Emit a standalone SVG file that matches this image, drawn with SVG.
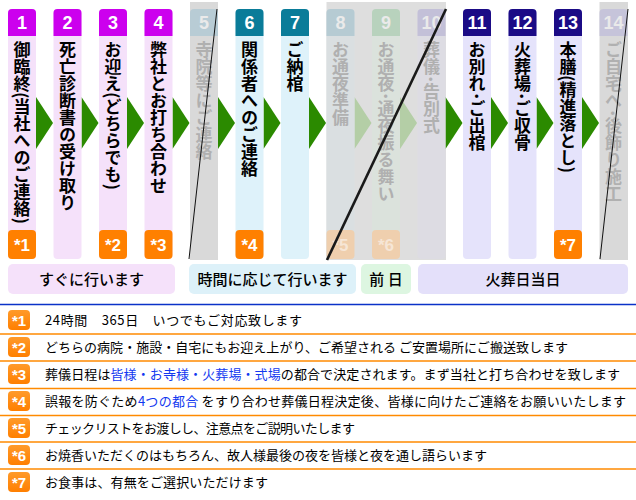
<svg xmlns="http://www.w3.org/2000/svg" width="636" height="500" viewBox="0 0 636 500">
<defs>
<style>
.vt{font-family:"Noto Sans CJK JP","Noto Sans CJK SC",sans-serif;font-size:17px;font-weight:bold;writing-mode:vertical-rl;fill:#000}
.vf{fill:#b0b0b0}
.num{font-family:"Liberation Sans",Arial,sans-serif;font-size:18px;font-weight:bold;fill:#fff;text-anchor:middle}
.numf{fill:#eaeaea}
.bd{font-family:"Liberation Sans",Arial,sans-serif;font-size:17px;font-weight:bold;fill:#fff;text-anchor:middle}
.bdf{fill:#f6e6d6}
.ph{font-family:"Noto Sans CJK JP",sans-serif;font-size:15px;font-weight:500;fill:#000;text-anchor:middle}
.lg{font-family:"Noto Sans CJK JP",sans-serif;font-size:13px;fill:#000}
.bl{fill:#1238f0}
.lb{font-family:"Liberation Sans",Arial,sans-serif;font-size:15px;font-weight:bold;fill:#fff;text-anchor:middle}
.arr{fill:#2b8a00}
.arrf{fill:#b4cea6}
.sep{stroke:#ff8a00;stroke-width:1.5}
</style>
<linearGradient id="og" x1="0" y1="0" x2="0" y2="1"><stop offset="0" stop-color="#ff9a2a"/><stop offset="1" stop-color="#ff7f00"/></linearGradient>
</defs>

<!-- faded zones backgrounds -->
<g id="faded-zones">
<rect x="190" y="2" width="28" height="258" fill="#d9d9d9"/>
<rect x="326.5" y="2" width="119.5" height="258" fill="#dedede"/>
<rect x="599.5" y="2" width="28.5" height="258" fill="#d9d9d9"/>
</g>

<g id="connectors">
<polygon class="arr" points="36,97 53,123 36,149"/>
<polygon class="arr" points="81.5,97 98.5,123 81.5,149"/>
<polygon class="arr" points="127,97 144,123 127,149"/>
<polygon class="arr" points="172.5,97 189.5,123 172.5,149"/>
<polygon class="arr" points="218,97 235,123 218,149"/>
<polygon class="arr" points="263.5,97 280.5,123 263.5,149"/>
<polygon class="arr" points="309,97 326,123 309,149"/>
<polygon class="arrf" points="354.5,97 371.5,123 354.5,149"/>
<polygon class="arrf" points="400,97 417,123 400,149"/>
<polygon class="arr" points="445.5,97 462.5,123 445.5,149"/>
<polygon class="arr" points="491,97 508,123 491,149"/>
<polygon class="arr" points="536.5,97 553.5,123 536.5,149"/>
<polygon class="arr" points="582,97 599,123 582,149"/>
</g>

<g id="step1">
<rect x="8" y="9" width="28" height="250" rx="4" fill="#f5e1fa"/>
<path d="M8,36 V13 a4,4 0 0 1 4,-4 H32 a4,4 0 0 1 4,4 V36 Z" fill="#cc00ee"/>
<text class="num" x="22" y="29">1</text>
<text class="vt" x="22" y="41">御臨終(当社へのご連絡)</text>
<rect x="8" y="230" width="28" height="29" rx="4" fill="#ff8000"/>
<text class="bd" x="22" y="251">*1</text>
</g>
<g id="step2">
<rect x="53.5" y="9" width="28" height="250" rx="4" fill="#f5e1fa"/>
<path d="M53.5,36 V13 a4,4 0 0 1 4,-4 H77.5 a4,4 0 0 1 4,4 V36 Z" fill="#cc00ee"/>
<text class="num" x="67.5" y="29">2</text>
<text class="vt" x="67.5" y="41">死亡診断書の受け取り</text>
</g>
<g id="step3">
<rect x="99" y="9" width="28" height="250" rx="4" fill="#f5e1fa"/>
<path d="M99,36 V13 a4,4 0 0 1 4,-4 H123 a4,4 0 0 1 4,4 V36 Z" fill="#cc00ee"/>
<text class="num" x="113" y="29">3</text>
<text class="vt" x="113" y="41">お迎え(どちらでも)</text>
<rect x="99" y="230" width="28" height="29" rx="4" fill="#ff8000"/>
<text class="bd" x="113" y="251">*2</text>
</g>
<g id="step4">
<rect x="144.5" y="9" width="28" height="250" rx="4" fill="#f5e1fa"/>
<path d="M144.5,36 V13 a4,4 0 0 1 4,-4 H168.5 a4,4 0 0 1 4,4 V36 Z" fill="#cc00ee"/>
<text class="num" x="158.5" y="29">4</text>
<text class="vt" x="158.5" y="41">弊社とお打ち合わせ</text>
<rect x="144.5" y="230" width="28" height="29" rx="4" fill="#ff8000"/>
<text class="bd" x="158.5" y="251">*3</text>
</g>
<g id="step5">
<path d="M190,36 V13 a4,4 0 0 1 4,-4 H214 a4,4 0 0 1 4,4 V36 Z" fill="#b8ccd5"/>
<text class="num numf" x="204" y="29">5</text>
<text class="vt vf" x="204" y="41">寺院等にご連絡</text>
<line x1="217" y1="9" x2="189" y2="259" stroke="#111" stroke-width="1"/>
</g>
<g id="step6">
<rect x="235.5" y="9" width="28" height="250" rx="4" fill="#def2fa"/>
<path d="M235.5,36 V13 a4,4 0 0 1 4,-4 H259.5 a4,4 0 0 1 4,4 V36 Z" fill="#0a7c99"/>
<text class="num" x="249.5" y="29">6</text>
<text class="vt" x="249.5" y="41">関係者へのご連絡</text>
<rect x="235.5" y="230" width="28" height="29" rx="4" fill="#ff8000"/>
<text class="bd" x="249.5" y="251">*4</text>
</g>
<g id="step7">
<rect x="281" y="9" width="28" height="250" rx="4" fill="#def2fa"/>
<path d="M281,36 V13 a4,4 0 0 1 4,-4 H305 a4,4 0 0 1 4,4 V36 Z" fill="#0a7c99"/>
<text class="num" x="295" y="29">7</text>
<text class="vt" x="295" y="41">ご納棺</text>
</g>
<g id="step8">
<rect x="326.5" y="9" width="28" height="250" rx="4" fill="#dadfe1"/>
<path d="M326.5,36 V13 a4,4 0 0 1 4,-4 H350.5 a4,4 0 0 1 4,4 V36 Z" fill="#b6cbd3"/>
<text class="num numf" x="340.5" y="29">8</text>
<text class="vt vf" x="340.5" y="41">お通夜準備</text>
<rect x="326.5" y="230" width="28" height="29" rx="4" fill="#efcfae"/>
<text class="bd bdf" x="340.5" y="251">*5</text>
</g>
<g id="step9">
<rect x="372" y="9" width="28" height="250" rx="4" fill="#dbe2dc"/>
<path d="M372,36 V13 a4,4 0 0 1 4,-4 H396 a4,4 0 0 1 4,4 V36 Z" fill="#b8d2bd"/>
<text class="num numf" x="386" y="29">9</text>
<text class="vt vf" x="386" y="41">お通夜･通夜振る舞い</text>
<rect x="372" y="230" width="28" height="29" rx="4" fill="#efcfae"/>
<text class="bd bdf" x="386" y="251">*6</text>
</g>
<g id="step10">
<rect x="417.5" y="9" width="28" height="250" rx="4" fill="#dddce3"/>
<path d="M417.5,36 V13 a4,4 0 0 1 4,-4 H441.5 a4,4 0 0 1 4,4 V36 Z" fill="#c3c0d8"/>
<text class="num numf" x="431.5" y="29">10</text>
<text class="vt vf" x="431.5" y="41">葬儀･告別式</text>
</g>
<line id="skip-line" x1="446" y1="9" x2="327" y2="260" stroke="#1a1a1a" stroke-width="2.6"/>
<g id="step11">
<rect x="463" y="9" width="28" height="250" rx="4" fill="#e5e3fb"/>
<path d="M463,36 V13 a4,4 0 0 1 4,-4 H487 a4,4 0 0 1 4,4 V36 Z" fill="#1b0b86"/>
<text class="num" x="477" y="29">11</text>
<text class="vt" x="477" y="41">お別れ･ご出棺</text>
</g>
<g id="step12">
<rect x="508.5" y="9" width="28" height="250" rx="4" fill="#e5e3fb"/>
<path d="M508.5,36 V13 a4,4 0 0 1 4,-4 H532.5 a4,4 0 0 1 4,4 V36 Z" fill="#1b0b86"/>
<text class="num" x="522.5" y="29">12</text>
<text class="vt" x="522.5" y="41">火葬場･ご収骨</text>
</g>
<g id="step13">
<rect x="554" y="9" width="28" height="250" rx="4" fill="#e5e3fb"/>
<path d="M554,36 V13 a4,4 0 0 1 4,-4 H578 a4,4 0 0 1 4,4 V36 Z" fill="#1b0b86"/>
<text class="num" x="568" y="29">13</text>
<text class="vt" x="568" y="41">本膳(精進落とし)</text>
<rect x="554" y="230" width="28" height="29" rx="4" fill="#ff8000"/>
<text class="bd" x="568" y="251">*7</text>
</g>
<g id="step14">
<path d="M599.5,36 V13 a4,4 0 0 1 4,-4 H623.5 a4,4 0 0 1 4,4 V36 Z" fill="#c6c4da"/>
<text class="num numf" x="613.5" y="29">14</text>
<text class="vt vf" x="613.5" y="41">ご自宅へ･後飾り施工</text>
<line x1="628" y1="9" x2="600" y2="259" stroke="#111" stroke-width="1"/>
</g>

<g id="phase-immediate">
<rect x="8" y="264" width="167" height="30" rx="5" fill="#f5e1fa"/>
<text class="ph" x="91.5" y="284.5">すぐに行います</text>
</g>
<g id="phase-timed">
<rect x="189" y="264" width="167" height="30" rx="5" fill="#ddf1f9"/>
<text class="ph" x="272.5" y="284.5">時間に応じて行います</text>
</g>
<g id="phase-eve">
<rect x="361" y="264" width="50" height="30" rx="5" fill="#ddf6e1"/>
<text class="ph" x="386" y="284.5">前 日</text>
</g>
<g id="phase-day">
<rect x="418" y="264" width="210" height="30" rx="5" fill="#e4e0fa"/>
<text class="ph" x="523" y="284.5">火葬日当日</text>
</g>

<g id="legend-lines">
<line x1="0" y1="304.5" x2="636" y2="304.5" stroke="#0a32c8" stroke-width="1.5"/>
<line class="sep" x1="0" y1="334" x2="636" y2="334"/>
<line class="sep" x1="0" y1="361" x2="636" y2="361"/>
<line class="sep" x1="0" y1="388.5" x2="636" y2="388.5"/>
<line class="sep" x1="0" y1="415.5" x2="636" y2="415.5"/>
<line class="sep" x1="0" y1="442" x2="636" y2="442"/>
<line class="sep" x1="0" y1="469" x2="636" y2="469"/>
</g>
<g id="note1">
<rect x="8" y="310" width="22" height="20" rx="4" fill="url(#og)"/>
<text class="lb" x="19" y="325.5">*1</text>
<text class="lg" x="45" y="324.5" textLength="257" lengthAdjust="spacing">24時間　365日　いつでもご対応致します</text>
</g>
<g id="note2">
<rect x="8" y="337" width="22" height="20" rx="4" fill="url(#og)"/>
<text class="lb" x="19" y="352.5">*2</text>
<text class="lg" x="45" y="351.5" textLength="523" lengthAdjust="spacing">どちらの病院・施設・自宅にもお迎え上がり、ご希望される ご安置場所にご搬送致します</text>
</g>
<g id="note3">
<rect x="8" y="364" width="22" height="20" rx="4" fill="url(#og)"/>
<text class="lb" x="19" y="379.5">*3</text>
<text class="lg" x="45" y="378.5" textLength="575" lengthAdjust="spacing">葬儀日程は<tspan class="bl">皆様・お寺様・火葬場・式場</tspan>の都合で決定されます。まず当社と打ち合わせを致します</text>
</g>
<g id="note4">
<rect x="8" y="391" width="22" height="20" rx="4" fill="url(#og)"/>
<text class="lb" x="19" y="406.5">*4</text>
<text class="lg" x="45" y="405.5" textLength="581" lengthAdjust="spacing">誤報を防ぐため<tspan class="bl">4つの都合</tspan> をすり合わせ葬儀日程決定後、皆様に向けたご連絡をお願いいたします</text>
</g>
<g id="note5">
<rect x="8" y="418" width="22" height="20" rx="4" fill="url(#og)"/>
<text class="lb" x="19" y="433.5">*5</text>
<text class="lg" x="45" y="432.5" textLength="310" lengthAdjust="spacing">チェックリストをお渡しし、注意点をご説明いたします</text>
</g>
<g id="note6">
<rect x="8" y="445" width="22" height="20" rx="4" fill="url(#og)"/>
<text class="lb" x="19" y="460.5">*6</text>
<text class="lg" x="45" y="459.5" textLength="442" lengthAdjust="spacing">お焼香いただくのはもちろん、故人様最後の夜を皆様と夜を通し語らいます</text>
</g>
<g id="note7">
<rect x="8" y="472" width="22" height="20" rx="4" fill="url(#og)"/>
<text class="lb" x="19" y="487.5">*7</text>
<text class="lg" x="45" y="486.5" textLength="223" lengthAdjust="spacing">お食事は、有無をご選択いただけます</text>
</g>
</svg>
